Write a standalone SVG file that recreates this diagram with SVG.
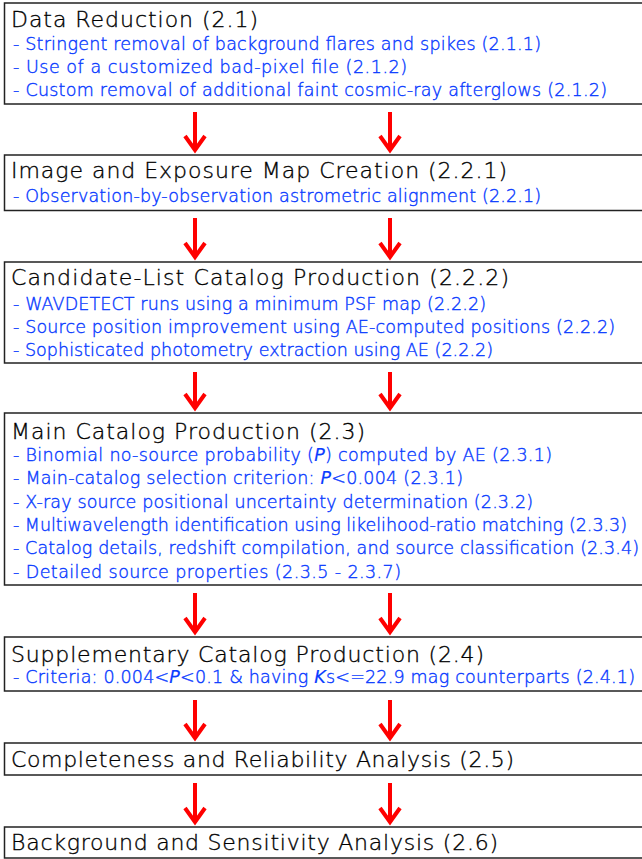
<svg xmlns="http://www.w3.org/2000/svg" width="642" height="859" viewBox="0 0 642 859">
<style>
.box{fill:#fff;stroke:#222;stroke-width:1.5}
.t{font-family:"DejaVu Sans","Liberation Sans",sans-serif;font-weight:200;font-size:22px;fill:#000;stroke:#000;stroke-width:0.35}
.b{font-family:"DejaVu Sans","Liberation Sans",sans-serif;font-weight:200;font-size:17.5px;fill:#0a3cff;stroke:#0a3cff;stroke-width:0.4}
.i{font-style:italic;font-weight:400;stroke-width:0.2}
.arr{stroke:#ff0000;stroke-width:4;fill:none;marker-end:url(#chev)}
</style>
<defs>
<marker id="chev" markerUnits="userSpaceOnUse" orient="auto" viewBox="-18 -14 22 28" markerWidth="22" markerHeight="28" refX="0" refY="0" overflow="visible">
<path d="M-14,-10 L0,0 L-14,10" fill="none" stroke="#ff0000" stroke-width="4"/>
</marker>
</defs>
<rect width="642" height="859" fill="#fff"/>
<g id="node-data-reduction">
<rect class="box" x="4.5" y="3" width="642" height="101"/>
<text class="t" x="11" y="27" textLength="247" lengthAdjust="spacing">Data Reduction (2.1)</text>
<text class="b" x="13" y="50" textLength="528" lengthAdjust="spacing">- Stringent removal of background flares and spikes (2.1.1)</text>
<text class="b" x="13" y="73" textLength="394" lengthAdjust="spacing">- Use of a customized bad-pixel file (2.1.2)</text>
<text class="b" x="13" y="96" textLength="594" lengthAdjust="spacing">- Custom removal of additional faint cosmic-ray afterglows (2.1.2)</text>
</g>
<g id="node-image-exposure">
<rect class="box" x="4.5" y="155" width="642" height="55.5"/>
<text class="t" x="11" y="178" textLength="496" lengthAdjust="spacing">Image and Exposure Map Creation (2.2.1)</text>
<text class="b" x="13" y="202" textLength="528" lengthAdjust="spacing">- Observation-by-observation astrometric alignment (2.2.1)</text>
</g>
<g id="node-candidate-list">
<rect class="box" x="4.5" y="262" width="642" height="101"/>
<text class="t" x="11" y="285" textLength="498" lengthAdjust="spacing">Candidate-List Catalog Production (2.2.2)</text>
<text class="b" x="13" y="310" textLength="473" lengthAdjust="spacing">- WAVDETECT runs using a minimum PSF map (2.2.2)</text>
<text class="b" x="13" y="333" textLength="602" lengthAdjust="spacing">- Source position improvement using AE-computed positions (2.2.2)</text>
<text class="b" x="13" y="356" textLength="480" lengthAdjust="spacing">- Sophisticated photometry extraction using AE (2.2.2)</text>
</g>
<g id="node-main-catalog">
<rect class="box" x="4.5" y="413" width="642" height="172"/>
<text class="t" x="11" y="439" textLength="354" lengthAdjust="spacing">Main Catalog Production (2.3)</text>
<text class="b" x="13" y="461" textLength="539" lengthAdjust="spacing">- Binomial no-source probability (<tspan class="i">P</tspan>) computed by AE (2.3.1)</text>
<text class="b" x="13" y="484" textLength="450" lengthAdjust="spacing">- Main-catalog selection criterion: <tspan class="i">P</tspan>&lt;0.004 (2.3.1)</text>
<text class="b" x="13" y="508" textLength="520" lengthAdjust="spacing">- X-ray source positional uncertainty determination (2.3.2)</text>
<text class="b" x="13" y="531" textLength="614" lengthAdjust="spacing">- Multiwavelength identification using likelihood-ratio matching (2.3.3)</text>
<text class="b" x="13" y="554" textLength="626" lengthAdjust="spacing">- Catalog details, redshift compilation, and source classification (2.3.4)</text>
<text class="b" x="13" y="578" textLength="388" lengthAdjust="spacing">- Detailed source properties (2.3.5 - 2.3.7)</text>
</g>
<g id="node-supplementary">
<rect class="box" x="4.5" y="637" width="642" height="54"/>
<text class="t" x="11" y="662" textLength="473" lengthAdjust="spacing">Supplementary Catalog Production (2.4)</text>
<text class="b" x="13" y="683" textLength="622" lengthAdjust="spacing">- Criteria: 0.004&lt;<tspan class="i">P</tspan>&lt;0.1 &amp; having <tspan class="i">K</tspan>s&lt;=22.9 mag counterparts (2.4.1)</text>
</g>
<g id="node-completeness">
<rect class="box" x="4.5" y="743" width="642" height="32"/>
<text class="t" x="11" y="767" textLength="503" lengthAdjust="spacing">Completeness and Reliability Analysis (2.5)</text>
</g>
<g id="node-background">
<rect class="box" x="4.5" y="827" width="642" height="31"/>
<text class="t" x="11" y="850" textLength="487" lengthAdjust="spacing">Background and Sensitivity Analysis (2.6)</text>
</g>
<g id="connectors">
<path class="arr" d="M195,112 V150"/>
<path class="arr" d="M390,112 V150"/>
<path class="arr" d="M195,218 V257"/>
<path class="arr" d="M390,218 V257"/>
<path class="arr" d="M195,372 V408"/>
<path class="arr" d="M390,372 V408"/>
<path class="arr" d="M195,593 V632"/>
<path class="arr" d="M390,593 V632"/>
<path class="arr" d="M195,700 V738"/>
<path class="arr" d="M390,700 V738"/>
<path class="arr" d="M195,783 V822"/>
<path class="arr" d="M390,783 V822"/>
</g>
</svg>
